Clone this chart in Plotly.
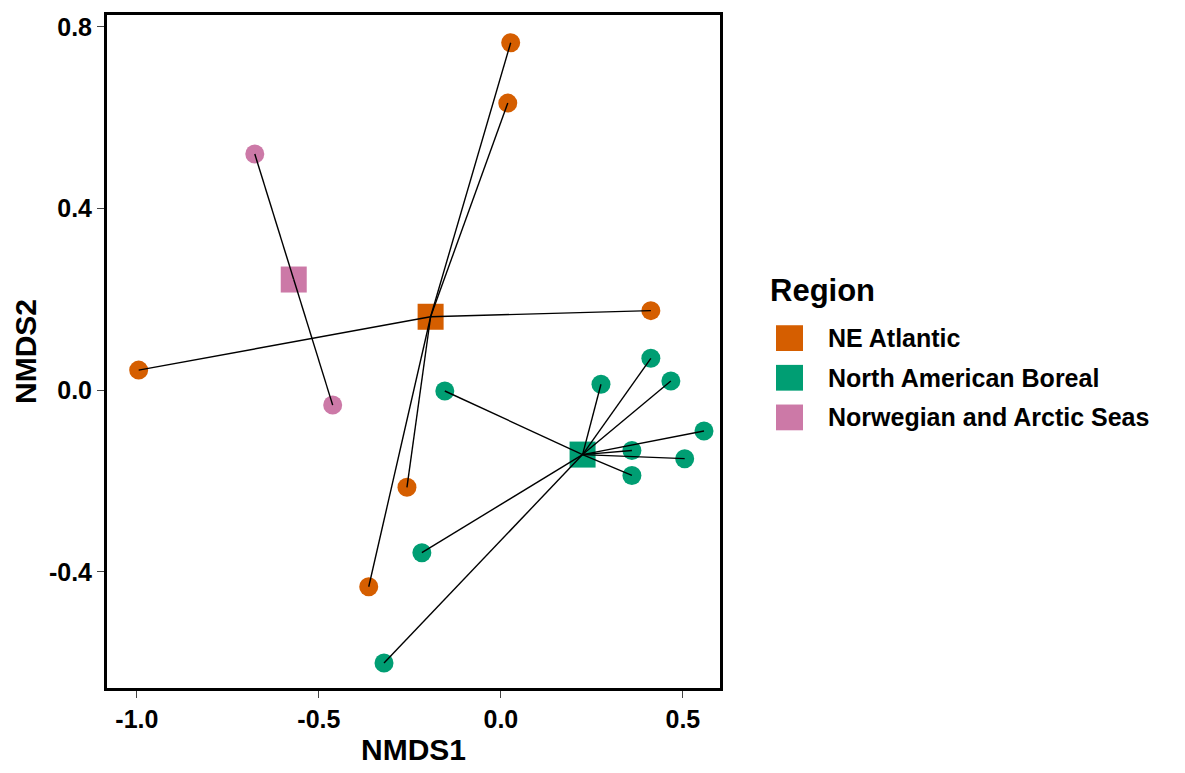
import plotly.graph_objects as go
import numpy as np

regions = ["NE Atlantic", "North American Boreal", "Norwegian and Arctic Seas"]
colors = {"NE Atlantic": "#D55E00", "North American Boreal": "#009E73",
          "Norwegian and Arctic Seas": "#CC79A7"}

ne_x = [0.027, 0.019, -0.995, 0.412, -0.258, -0.363]
ne_y = [0.765, 0.632, 0.044, 0.175, -0.214, -0.433]

nab_x = [-0.154, 0.275, 0.412, 0.467, 0.558, 0.360, 0.505, 0.360, -0.217, -0.321]
nab_y = [-0.002, 0.013, 0.070, 0.020, -0.090, -0.133, -0.151, -0.188, -0.358, -0.601]

nas_x = [-0.676, -0.462]
nas_y = [0.520, -0.033]

groups = {
    "NE Atlantic": (ne_x, ne_y),
    "North American Boreal": (nab_x, nab_y),
    "Norwegian and Arctic Seas": (nas_x, nas_y),
}

xticks = [-1.0, -0.5, 0.0, 0.5]
yticks = [-0.4, 0.0, 0.4, 0.8]

FONT = "Liberation Sans, Arial, sans-serif"
W, H = 1185, 773
ML, MR, MT, MB = 107, 465, 12, 82
PW, PH = W - ML - MR, H - MT - MB

def px_x(p):  # pixel x -> paper
    return (p - ML) / PW

def px_y(p):  # pixel y -> paper
    return (H - MB - p) / PH

fig = go.Figure()

# points
for r in regions:
    xs, ys = groups[r]
    fig.add_trace(go.Scatter(x=xs, y=ys, mode="markers", showlegend=False,
                             marker=dict(symbol="circle", size=19, color=colors[r],
                                         line=dict(width=0))))
# centroids
for r in regions:
    xs, ys = groups[r]
    fig.add_trace(go.Scatter(x=[np.mean(xs)], y=[np.mean(ys)], mode="markers",
                             showlegend=False,
                             marker=dict(symbol="square", size=26, color=colors[r],
                                         line=dict(width=0))))
# spider lines
lx, ly = [], []
for r in regions:
    xs, ys = groups[r]
    cx, cy = np.mean(xs), np.mean(ys)
    for x, y in zip(xs, ys):
        lx += [cx, x, None]
        ly += [cy, y, None]
fig.add_trace(go.Scatter(x=lx, y=ly, mode="lines", showlegend=False,
                         line=dict(color="black", width=1.4)))

# manual legend (title, keys, labels)
shapes = []
annotations = [dict(text="Region", xref="paper", yref="paper",
                    x=px_x(768), y=px_y(290), xanchor="left", yanchor="middle",
                    showarrow=False,
                    font=dict(size=31, family=FONT, weight="bold", color="black"))]
for i, r in enumerate(regions):
    cy = 338 + 40 * i
    shapes.append(dict(type="rect", xref="paper", yref="paper",
                       x0=px_x(776), x1=px_x(803), y0=px_y(cy - 13), y1=px_y(cy + 13),
                       fillcolor=colors[r], line=dict(width=0)))
    annotations.append(dict(text=r, xref="paper", yref="paper",
                            x=px_x(826), y=px_y(cy), xanchor="left", yanchor="middle",
                            showarrow=False,
                            font=dict(size=25, family=FONT, weight="bold", color="black")))

fig.update_layout(
    width=W, height=H,
    margin=dict(l=ML, r=MR, t=MT, b=MB),
    paper_bgcolor="white", plot_bgcolor="white",
    font=dict(family=FONT, color="black", size=20, weight="bold"),
    showlegend=False,
    shapes=shapes, annotations=annotations,
    xaxis=dict(range=[-1.082, 0.602], tickvals=xticks,
               ticktext=[f"{v:.1f}" for v in xticks],
               showgrid=False, zeroline=False,
               showline=True, mirror=True, linecolor="black", linewidth=3,
               ticks="outside", ticklen=7, tickcolor="#444", tickwidth=1,
               tickfont=dict(size=25, family=FONT, weight="bold"),
               title=dict(text="NMDS1", font=dict(size=30, family=FONT, weight="bold"),
                          standoff=7)),
    yaxis=dict(range=[-0.656, 0.826], tickvals=yticks,
               ticktext=[f"{v:.1f}" for v in yticks],
               showgrid=False, zeroline=False,
               showline=True, mirror=True, linecolor="black", linewidth=3,
               ticks="outside", ticklen=7, tickcolor="#444", tickwidth=1,
               tickfont=dict(size=25, family=FONT, weight="bold"),
               title=dict(text="NMDS2", font=dict(size=30, family=FONT, weight="bold"),
                          standoff=4)),
)

fig.write_html("out.html")
